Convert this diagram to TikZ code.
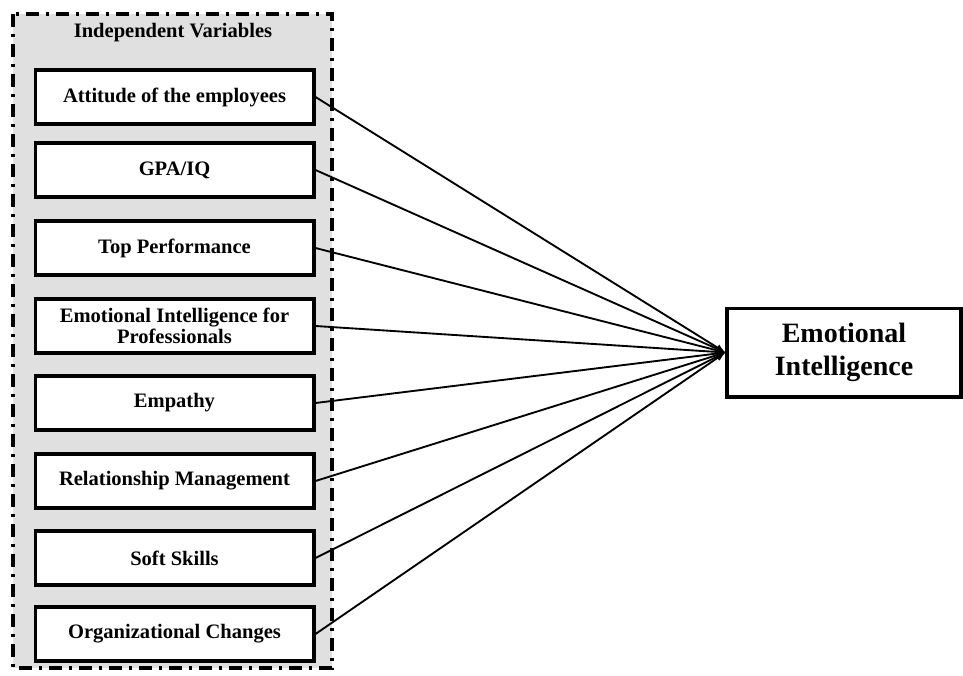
\documentclass[tikz,border=0pt]{standalone}
\usepackage{fontspec}
\setmainfont{Liberation Serif}
\usetikzlibrary{arrows}

\begin{document}
\begin{tikzpicture}[x=0.75pt,y=-0.75pt,>=latex,
	var/.style={draw,line width=2.5pt,fill=white,minimum width=209pt,minimum height=40.5pt,
		align=center,font=\fontsize{15.4}{16}\selectfont\bfseries,inner sep=1pt},
	target/.style={draw,line width=2.5pt,fill=white,minimum width=175.5pt,minimum height=66.5pt,
		align=center,font=\fontsize{21}{25}\selectfont\bfseries}]
	\useasboundingbox (0,0) rectangle (963,675);
	\draw[fill={rgb,255:red,224;green,224;blue,224},line width=2.8pt,
		dash pattern=on 10pt off 5pt on 2.5pt off 5pt] (13,14) rectangle (332,668);
	\node[font=\fontsize{15.4}{16}\selectfont\bfseries] (hdr) at (173,33) {Independent Variables};

\node[var] (V1) at (174.5,97) {Attitude of the employees};
\node[var] (V2) at (174.5,170) {GPA/IQ};
\node[var] (V3) at (174.5,248) {Top Performance};
\node[var] (V4) at (174.5,326) {Emotional Intelligence for\\Professionals};
\node[var] (V5) at (174.5,403) {Empathy};
\node[var] (V6) at (174.5,481) {Relationship Management};
\node[var] (V7) at (174.5,558) {Soft Skills};
\node[var] (V8) at (174.5,634) {Organizational Changes};
\node[target] (EI) at (844,352.5) {Emotional\\Intelligence};
\foreach \i in {1,...,8}
	\draw [->,line width=1.4pt] (V\i.east) -- (EI.west);
\end{tikzpicture}
\end{document}
